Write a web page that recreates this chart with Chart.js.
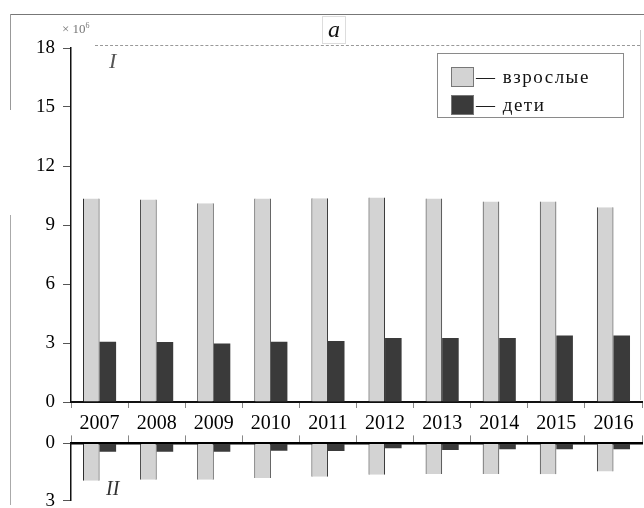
<!DOCTYPE html>
<html lang="ru">
<head>
<meta charset="utf-8">
<title>Взрослые и дети, 2007–2016</title>
<script src="https://cdn.jsdelivr.net/npm/chart.js@4.4.1/dist/chart.umd.min.js"></script>
<style>
  html, body { margin: 0; padding: 0; background: #fff; }
  #page {
    position: relative; width: 644px; height: 508px; overflow: hidden;
    background: #fff; font-family: "Liberation Serif", "DejaVu Serif", serif; color: #111;
  }
  #topChart { position: absolute; left: 0; top: 0; }
  #bottomChart { position: absolute; left: 0; top: 424px; }
  .line { position: absolute; }
  .note { position: absolute; line-height: 1; }
  #legend {
    position: absolute; left: 437px; top: 53px; width: 187px; height: 65px;
    border: 1px solid #8a8a8a; box-sizing: border-box; padding: 9px 0 0 13px;
  }
  .legend-row { display: flex; align-items: center; height: 28px; }
  .legend-box { width: 23px; height: 20px; box-sizing: border-box; border: 1px solid #777; }
  .legend-text { font-size: 19px; letter-spacing: 1.5px; color: #111; margin-left: 2px; }
</style>
</head>
<body>
<div id="page">
  <!-- scanned frame lines -->
  <div class="line" style="left:10px; top:14px; width:634px; height:1px; background:#777;"></div>
  <div class="line" style="left:10px; top:14px; width:1px; height:96px; background:#999;"></div>
  <div class="line" style="left:10px; top:215px; width:1px; height:290px; background:#aaa;"></div>
  <div class="line" style="left:95px; top:45px; width:545px; height:0; border-top:1px dashed #999;"></div>
  <div class="line" style="left:640px; top:30px; width:1px; height:370px; background:#ccc;"></div>

  <canvas id="topChart" width="644" height="440"></canvas>
  <canvas id="bottomChart" width="644" height="96"></canvas>

  <div class="note" style="left:62px; top:22px; font-size:13px; color:#777;">× 10<sup style="font-size:8px;">6</sup></div>
  <div class="note" style="left:322px; top:16px; width:22px; height:26px; border:1px solid #ddd; font-size:24px; font-style:italic; text-align:center;">а</div>
  <div class="note" style="left:109px; top:50px; font-size:22px; font-style:italic; color:#555;">I</div>
  <div class="note" style="left:106px; top:478px; font-size:20px; font-style:italic; color:#333;">II</div>

  <div id="legend"></div>
</div>

<script>
// Years on the category axis
const years = ["2007", "2008", "2009", "2010", "2011", "2012", "2013", "2014", "2015", "2016"];

// Panel I values (× 10^6)
const adultsTop = [10.35, 10.3, 10.1, 10.35, 10.36, 10.4, 10.35, 10.2, 10.2, 9.9];
const kidsTop   = [3.06, 3.05, 2.97, 3.06, 3.1, 3.26, 3.25, 3.26, 3.38, 3.38];

// Panel II values (drawn downwards)
const adultsBottom = [1.96, 1.91, 1.91, 1.82, 1.75, 1.65, 1.6, 1.6, 1.62, 1.48];
const kidsBottom   = [0.44, 0.44, 0.44, 0.39, 0.4, 0.26, 0.35, 0.31, 0.31, 0.31];

// Tick values
const topTicks = [0, 3, 6, 9, 12, 15, 18];
const bottomTicks = [0, 3];

const seriesNames = ["взрослые", "дети"];

const chartApp = {
  fontFamily: "'Liberation Serif', 'DejaVu Serif', serif",
  adultColor: "#d3d3d3",
  kidColor: "#3a3a3a",

  init: function () {
    const top = this.buildTopChart();
    this.buildBottomChart();
    this.buildLegend(top);
  },

  // Bar datasets shared by both panels
  makeDatasets: function (adults, kids) {
    return [{
      label: seriesNames[0],
      data: adults,
      backgroundColor: this.adultColor,
      borderColor: "#2b2b2b",
      borderWidth: { left: 1, right: 1, top: 0, bottom: 0 },
      borderSkipped: false
    }, {
      label: seriesNames[1],
      data: kids,
      backgroundColor: this.kidColor,
      borderWidth: 0
    }];
  },

  // Panel I: main bars
  buildTopChart: function () {
    const ctx = document.getElementById("topChart").getContext("2d");
    return new Chart(ctx, {
      type: "bar",
      data: { labels: years, datasets: this.makeDatasets(adultsTop, kidsTop) },
      options: {
        responsive: false,
        animation: false,
        layout: { padding: { top: 48, right: 2, left: 0, bottom: 0 } },
        datasets: { bar: { barPercentage: 1, categoryPercentage: 0.58 } },
        plugins: { legend: { display: false }, tooltip: { enabled: false } },
        scales: {
          x: {
            grid: { drawOnChartArea: false, tickLength: 6, color: "#888" },
            border: { color: "#111", width: 2 },
            ticks: { color: "#000", padding: 4, font: { family: this.fontFamily, size: 20 } }
          },
          y: {
            min: 0,
            max: 18,
            afterBuildTicks: s => { s.ticks = topTicks.map(v => ({ value: v })); },
            afterFit: s => { s.width = 71; },
            grid: { drawOnChartArea: false, tickLength: 8, color: "#555" },
            border: { color: "#111", width: 1.5 },
            ticks: { color: "#000", padding: 8, font: { family: this.fontFamily, size: 19 } }
          }
        }
      }
    });
  },

  // Panel II: bars hanging from the top axis
  buildBottomChart: function () {
    const ctx = document.getElementById("bottomChart").getContext("2d");
    return new Chart(ctx, {
      type: "bar",
      data: { labels: years, datasets: this.makeDatasets(adultsBottom, kidsBottom) },
      options: {
        responsive: false,
        animation: false,
        layout: { padding: { top: 0, right: 2, left: 0, bottom: 19 } },
        datasets: { bar: { barPercentage: 1, categoryPercentage: 0.58 } },
        plugins: { legend: { display: false }, tooltip: { enabled: false } },
        scales: {
          x: {
            position: "top",
            afterFit: s => { s.height = 13; },
            grid: { drawOnChartArea: false, tickLength: 8, color: "#888" },
            border: { color: "#000", width: 2.5 },
            ticks: { display: false }
          },
          y: {
            min: 0,
            max: 3,
            reverse: true,
            afterBuildTicks: s => { s.ticks = bottomTicks.map(v => ({ value: v })); },
            afterFit: s => { s.width = 71; },
            grid: { drawOnChartArea: false, tickLength: 8, color: "#555" },
            border: { color: "#111", width: 1.5 },
            ticks: { color: "#000", padding: 8, font: { family: this.fontFamily, size: 19 } }
          }
        }
      }
    });
  },

  // Legend box inside panel I, built from the dataset labels and colours
  buildLegend: function (chart) {
    const legend = document.getElementById("legend");
    legend.innerHTML = "";
    chart.data.datasets.forEach(ds => {
      const row = document.createElement("div");
      row.className = "legend-row";
      const box = document.createElement("div");
      box.className = "legend-box";
      box.style.background = ds.backgroundColor;
      const text = document.createElement("span");
      text.className = "legend-text";
      text.textContent = "— " + ds.label;
      row.appendChild(box);
      row.appendChild(text);
      legend.appendChild(row);
    });
  }
};

document.addEventListener("DOMContentLoaded", () => {
  chartApp.init();
});
</script>
</body>
</html>
